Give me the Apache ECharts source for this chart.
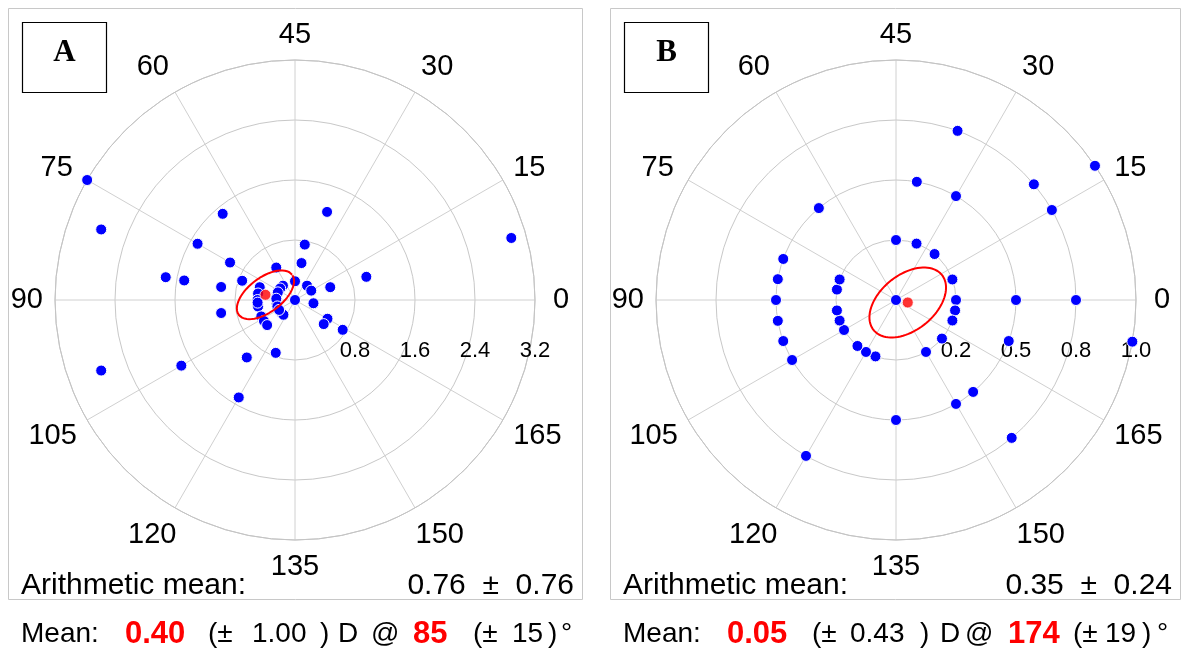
<!DOCTYPE html>
<html>
<head>
<meta charset="utf-8">
<script src="https://cdn.jsdelivr.net/npm/echarts@6/dist/echarts.min.js"></script>
<style>
  html, body { margin: 0; padding: 0; background: #fff; }
  #chart { width: 1184px; height: 651px; }
</style>
</head>
<body>
<div id="chart"></div>
<script>
// Astigmatism vectors on a double-angle plot: [magnitude (D), axis (deg)]
const vectorsA = [
  [3.2, 75], [2.75, 80], [1.5, 65], [1.5, 75], [1.0, 75], [1.75, 85], [1.5, 85],
  [1.0, 85], [0.75, 80], [0.5, 60], [0.25, 65], [0.5, 80], [0.5, 85], [0.25, 45],
  [1.25, 35], [3.0, 8], [1.0, 9], [0.75, 40], [0.5, 40], [0.5, 10], [0.25, 25],
  [0.25, 15], [0.25, 71], [0.25, 83], [0.25, 96], [0.5, 90], [0.5, 95], [0, 0],
  [0.25, 175], [0.25, 111], [0.25, 116], [0.5, 103], [0.5, 107], [0.5, 111],
  [1.0, 95], [0.5, 165], [0.5, 160], [0.75, 164], [1.0, 115], [0.75, 125],
  [2.75, 100], [1.75, 105], [1.5, 120],
  [0.25, 78], [0.25, 88], [0.25, 100], [0.5, 92], [0.25, 106]
];
const vectorsB = [
  [0.25, 45], [0.25, 35], [0.25, 25], [0.25, 10], [0.25, 0], [0.25, 175], [0.25, 170],
  [0.25, 160], [0.25, 150], [0.25, 125], [0.25, 120], [0.25, 115], [0.25, 105],
  [0.25, 100], [0.25, 95], [0.25, 85], [0.25, 80], [0, 0],
  [0.5, 65], [0.5, 80], [0.5, 85], [0.5, 90], [0.5, 95], [0.5, 100], [0.5, 105],
  [0.5, 135], [0.5, 40], [0.5, 30], [0.5, 0], [0.5, 170], [0.5, 155], [0.5, 150],
  [0.75, 120], [0.75, 35], [0.75, 20], [0.75, 15], [0.75, 0], [0.75, 155],
  [1.0, 17], [1.0, 175]
];

// Mean vectors [magnitude (D), axis (deg)]
const meanA = [0.40, 85];
const meanB = [0.05, 174];

// Confidence ellipses around the mean: semi-axes (D) and tilt in the double-angle plane (deg)
const ellipseA = { a: 0.445, b: 0.23, tilt: 37 };
const ellipseB = { a: 0.183, b: 0.115, tilt: 39 };

// Summary texts
const arithA = '0.76  \u00b1  0.76';
const arithB = '0.35  \u00b1  0.24';
const summaryA = { mag: '0.40', magSd: '1.00', axis: '85', axisSd: '15' };
const summaryB = { mag: '0.05', magSd: '0.43', axis: '174', axisSd: '19' };

// Axis tick labels
const angleTicks = ['0', '15', '30', '45', '60', '75', '90', '105', '120', '135', '150', '165'];
const radiusTicksA = ['0.8', '1.6', '2.4', '3.2'];
const radiusTicksB = ['0.2', '0.5', '0.8', '1.0'];
const radiusMaxA = 3.2, radiusStepA = 0.8;
const radiusMaxB = 1.0, radiusStepB = 0.25;

const FONT = '"Liberation Sans", Arial, Helvetica, sans-serif';

// Outline of a tilted ellipse in the double-angle plane, returned as [r, axis] pairs
function ellipseOutline(mean, e, steps) {
  const m = mean[0], th = mean[1] * Math.PI / 90;
  const cx = m * Math.cos(th), cy = m * Math.sin(th);
  const phi = e.tilt * Math.PI / 180;
  const pts = [];
  for (let i = 0; i <= steps; i++) {
    const t = i / steps * 2 * Math.PI;
    const x = cx + e.a * Math.cos(t) * Math.cos(phi) - e.b * Math.sin(t) * Math.sin(phi);
    const y = cy + e.a * Math.cos(t) * Math.sin(phi) + e.b * Math.sin(t) * Math.cos(phi);
    let ang = Math.atan2(y, x) * 180 / Math.PI;
    if (ang < 0) ang += 360;
    pts.push([Math.hypot(x, y), ang / 2]);
  }
  return pts;
}

// Per-label text styles for the angle ring (fine placement around the circle)
const base = { fontSize: 29, color: '#000', fontFamily: FONT };
const angleRich = {
  l0: Object.assign({ padding: [0, 0, 0, 6] }, base),
  l1: Object.assign({ lineHeight: 12 }, base),
  l2: Object.assign({}, base),
  l3: Object.assign({ lineHeight: 26 }, base),
  l4: Object.assign({}, base),
  l5: Object.assign({ lineHeight: 12, padding: [0, 4, 0, 0] }, base),
  l6: Object.assign({}, base),
  l7: Object.assign({ lineHeight: 20 }, base),
  l8: Object.assign({ lineHeight: 34, width: 41, align: 'left' }, base),
  l9: Object.assign({}, base),
  l10: Object.assign({ lineHeight: 34, width: 43, align: 'right' }, base),
  l11: Object.assign({ lineHeight: 19 }, base)
};

function angleAxis(idx) {
  return {
    polarIndex: idx, type: 'value', min: 0, max: 180, interval: 15,
    startAngle: 0, clockwise: false,
    axisLine: { lineStyle: { color: '#c4c4c4', width: 1 } },
    axisTick: { show: false },
    splitLine: { lineStyle: { color: '#d0d0d0', width: 1 } },
    axisLabel: {
      fontSize: 29, color: '#000', fontFamily: FONT, margin: 12,
      formatter: v => {
        const i = Math.round(v / 15);
        return angleTicks[i] ? '{l' + i + '|' + angleTicks[i] + '}' : '';
      },
      rich: angleRich
    }
  };
}

function radiusAxis(idx, max, step, labels) {
  return {
    polarIndex: idx, type: 'value', min: 0, max: max, interval: step,
    axisLine: { show: false },
    axisTick: { show: false },
    splitLine: { lineStyle: { color: '#c8c8c8', width: 1 } },
    axisLabel: {
      fontSize: 22, color: '#000', fontFamily: FONT, margin: -62,
      formatter: (v, i) => (i === 0 ? '' : (labels[i - 1] || ''))
    }
  };
}

function pointsSeries(idx, data) {
  return {
    type: 'scatter', coordinateSystem: 'polar', polarIndex: idx,
    data: data, symbolSize: 11, z: 3,
    itemStyle: { color: '#0000ff', borderColor: '#ffffff', borderWidth: 1, opacity: 1 }
  };
}

function ellipseSeries(idx, mean, e) {
  return {
    type: 'line', coordinateSystem: 'polar', polarIndex: idx,
    data: ellipseOutline(mean, e, 180), symbol: 'none', smooth: false, z: 4,
    lineStyle: { color: '#ff0000', width: 2 }
  };
}

function meanSeries(idx, mean) {
  return {
    type: 'scatter', coordinateSystem: 'polar', polarIndex: idx,
    data: [mean], symbolSize: 11, z: 5,
    itemStyle: { color: '#ff0000', borderColor: '#ffffff', borderWidth: 1 }
  };
}

function txt(x, y, text, opts) {
  return {
    type: 'text', x: x, y: y, silent: true,
    style: Object.assign({
      text: text, fill: '#000', fontSize: 28, fontFamily: FONT,
      textAlign: 'left', textVerticalAlign: 'middle'
    }, opts || {})
  };
}

function panelGraphics(x0, right, letter, arith, s, pos) {
  const red = { fill: '#ff0000', fontWeight: 'bold', fontSize: 31 };
  return [
    { type: 'rect', shape: { x: x0 + 0.5, y: 8.5, width: right - x0, height: 591 },
      style: { fill: 'none', stroke: '#c8c8c8', lineWidth: 1 }, silent: true, z: 0 },
    { type: 'rect', shape: { x: x0 + 14.5, y: 22.5, width: 84, height: 70 },
      style: { fill: '#fff', stroke: '#000', lineWidth: 1.2 }, silent: true, z: 10 },
    Object.assign(txt(x0 + 56.5, 53, letter, {
      fontFamily: '"Liberation Serif", "Times New Roman", serif', fontWeight: 'bold',
      fontSize: 31, textAlign: 'center'
    }), { z: 11 }),
    txt(x0 + 13, 586, 'Arithmetic mean:', { fontSize: 30 }),
    txt(right - 8, 586, arith, { fontSize: 30, textAlign: 'right' }),
    txt(x0 + 13, 634, 'Mean:'),
    txt(pos[0], 634, s.mag, red),
    txt(pos[1], 634, '(\u00b1'),
    txt(pos[2], 634, s.magSd),
    txt(pos[3], 634, ')'),
    txt(pos[4], 634, 'D'),
    txt(pos[5], 634, '@'),
    txt(pos[6], 634, s.axis, red),
    txt(pos[7], 634, '(\u00b1'),
    txt(pos[8], 634, s.axisSd),
    txt(pos[9], 634, ')'),
    txt(pos[10], 634, '\u00b0')
  ];
}

const chart = echarts.init(document.getElementById('chart'), null, { renderer: 'canvas' });
chart.setOption({
  animation: false,
  backgroundColor: '#ffffff',
  polar: [
    { center: [295, 300], radius: 240 },
    { center: [896, 300], radius: 240 }
  ],
  angleAxis: [angleAxis(0), angleAxis(1)],
  radiusAxis: [
    radiusAxis(0, radiusMaxA, radiusStepA, radiusTicksA),
    radiusAxis(1, radiusMaxB, radiusStepB, radiusTicksB)
  ],
  series: [
    pointsSeries(0, vectorsA), ellipseSeries(0, meanA, ellipseA), meanSeries(0, meanA),
    pointsSeries(1, vectorsB), ellipseSeries(1, meanB, ellipseB), meanSeries(1, meanB)
  ],
  graphic: [
    ...panelGraphics(8, 582, 'A', arithA, summaryA,
      [125, 208, 252, 320, 338, 371, 413, 473, 512, 548, 561]),
    ...panelGraphics(610, 1180, 'B', arithB, summaryB,
      [727, 812, 850, 920, 940, 965, 1008, 1073, 1105, 1142, 1157])
  ]
});
</script>
</body>
</html>
